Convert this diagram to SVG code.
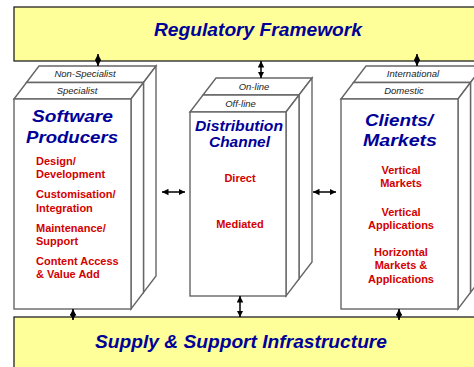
<svg xmlns="http://www.w3.org/2000/svg" width="474" height="367" viewBox="0 0 474 367">
  <style>
    .band { fill: #FFFF99; stroke: #222; stroke-width: 1.3; }
    .face { fill: #fff; stroke: #666; stroke-width: 1.4; stroke-linejoin: miter; }
    .head { font-family: "Liberation Sans", Arial, sans-serif; font-weight: bold; font-style: italic; fill: #000099; text-anchor: middle; }
    .layer { font-family: "Liberation Sans", Arial, sans-serif; font-style: italic; font-size: 9.5px; fill: #222; text-anchor: middle; }
    .item { font-family: "Liberation Sans", Arial, sans-serif; font-weight: bold; font-size: 11px; fill: #D40000; }
    .mid { text-anchor: middle; }
    .conn { stroke: #000; stroke-width: 1.5; fill: none; marker-start: url(#tip); marker-end: url(#tip); }
  </style>
  <defs>
    <marker id="tip" viewBox="0 0 10 10" refX="10" refY="5" markerUnits="userSpaceOnUse" markerWidth="6.5" markerHeight="7" orient="auto-start-reverse">
      <path d="M0,0 L10,5 L0,10 z" fill="#000"/>
    </marker>
  </defs>

  <!-- top band -->
  <g id="regulatory">
    <rect class="band" x="14" y="7" width="470" height="54"/>
    <text class="head" x="258" y="36" font-size="18" textLength="208" lengthAdjust="spacingAndGlyphs">Regulatory Framework</text>
  </g>

  <!-- bottom band -->
  <g id="infrastructure">
    <rect class="band" x="14" y="317" width="470" height="60"/>
    <text class="head" x="241" y="348" font-size="18" textLength="292" lengthAdjust="spacingAndGlyphs">Supply &amp; Support Infrastructure</text>
  </g>

  <!-- software producers block -->
  <g id="producers">
    <polygon class="face" points="26.5,82.5 39,66 156,66 143.5,82.5"/>
    <polygon class="face" points="14,99 26.5,82.5 143.5,82.5 131,99"/>
    <polygon class="face" points="143.5,82.5 156,66 156,276 143.5,292.5"/>
    <polygon class="face" points="131,99 143.5,82.5 143.5,292.5 131,309"/>
    <rect class="face" x="14" y="99" width="117" height="210"/>
    <text class="layer" x="85" y="77">Non-Specialist</text>
    <text class="layer" x="77" y="94">Specialist</text>
    <text class="head" x="72.5" y="122" font-size="16.5" textLength="81" lengthAdjust="spacingAndGlyphs">Software</text>
    <text class="head" x="72" y="143" font-size="16.5" textLength="92" lengthAdjust="spacingAndGlyphs">Producers</text>
    <text class="item" x="36" y="165">Design/</text>
    <text class="item" x="36" y="178">Development</text>
    <text class="item" x="36" y="198">Customisation/</text>
    <text class="item" x="36" y="212">Integration</text>
    <text class="item" x="36" y="232">Maintenance/</text>
    <text class="item" x="36" y="245">Support</text>
    <text class="item" x="36" y="265">Content Access</text>
    <text class="item" x="36" y="278">&amp; Value Add</text>
  </g>

  <!-- distribution channel block -->
  <g id="distribution">
    <polygon class="face" points="203,95 216,78 312,78 299,95"/>
    <polygon class="face" points="190,112 203,95 299,95 286,112"/>
    <polygon class="face" points="299,95 312,78 312,262 299,279"/>
    <polygon class="face" points="286,112 299,95 299,279 286,296"/>
    <rect class="face" x="190" y="112" width="96" height="184"/>
    <text class="layer" x="254" y="90">On-line</text>
    <text class="layer" x="240.5" y="107">Off-line</text>
    <text class="head" x="239" y="131" font-size="14" textLength="88" lengthAdjust="spacingAndGlyphs">Distribution</text>
    <text class="head" x="239.5" y="147" font-size="14" textLength="61" lengthAdjust="spacingAndGlyphs">Channel</text>
    <text class="item mid" x="240" y="182">Direct</text>
    <text class="item mid" x="240" y="228">Mediated</text>
  </g>

  <!-- clients / markets block -->
  <g id="clients">
    <polygon class="face" points="353.5,82.5 366,66 483,66 470.5,82.5"/>
    <polygon class="face" points="341,99 353.5,82.5 470.5,82.5 458,99"/>
    <polygon class="face" points="470.5,82.5 483,66 483,276 470.5,292.5"/>
    <polygon class="face" points="458,99 470.5,82.5 470.5,292.5 458,309"/>
    <rect class="face" x="341" y="99" width="117" height="210"/>
    <text class="layer" x="413" y="77">International</text>
    <text class="layer" x="404" y="94">Domestic</text>
    <text class="head" x="399" y="126" font-size="16.5" textLength="68" lengthAdjust="spacingAndGlyphs">Clients/</text>
    <text class="head" x="400" y="146" font-size="16.5" textLength="74" lengthAdjust="spacingAndGlyphs">Markets</text>
    <text class="item mid" x="401" y="174">Vertical</text>
    <text class="item mid" x="401" y="187">Markets</text>
    <text class="item mid" x="401" y="216">Vertical</text>
    <text class="item mid" x="401" y="229">Applications</text>
    <text class="item mid" x="401" y="256">Horizontal</text>
    <text class="item mid" x="401" y="269">Markets &amp;</text>
    <text class="item mid" x="401" y="283">Applications</text>
  </g>

  <!-- two-way links -->
  <g id="connectors">
    <line class="conn" x1="98" y1="54" x2="98" y2="66"/>
    <line class="conn" x1="261" y1="61" x2="261" y2="78"/>
    <line class="conn" x1="417" y1="54" x2="417" y2="66"/>
    <line class="conn" x1="73" y1="309" x2="73" y2="320"/>
    <line class="conn" x1="240" y1="296" x2="240" y2="317"/>
    <line class="conn" x1="399" y1="309" x2="399" y2="320"/>
    <line class="conn" x1="162" y1="192" x2="185" y2="192"/>
    <line class="conn" x1="313" y1="192" x2="336" y2="192"/>
  </g>
</svg>
